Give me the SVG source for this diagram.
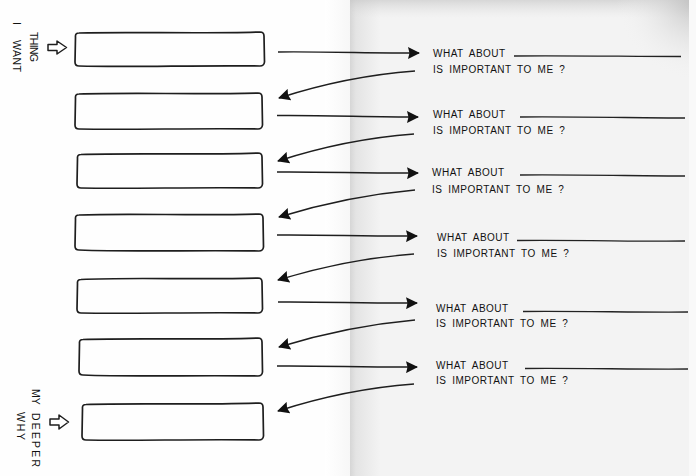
<svg xmlns="http://www.w3.org/2000/svg" width="696" height="476" viewBox="0 0 696 476">
<defs>
<linearGradient id="fold" x1="350" y1="0" x2="380" y2="0" gradientUnits="userSpaceOnUse">
<stop offset="0" stop-color="#d6d6d6"/>
<stop offset="0.2" stop-color="#e4e4e4"/>
<stop offset="1" stop-color="#f3f3f3"/>
</linearGradient>
<linearGradient id="leftfold" x1="325" y1="0" x2="350" y2="0" gradientUnits="userSpaceOnUse">
<stop offset="0" stop-color="#ffffff"/>
<stop offset="1" stop-color="#f7f7f7"/>
</linearGradient>
<radialGradient id="corner" cx="696" cy="0" r="80" gradientUnits="userSpaceOnUse">
<stop offset="0" stop-color="#bcbcbc" stop-opacity="0.9"/>
<stop offset="1" stop-color="#f3f3f3" stop-opacity="0"/>
</radialGradient>
<linearGradient id="topfold" x1="0" y1="0" x2="0" y2="18" gradientUnits="userSpaceOnUse">
<stop offset="0" stop-color="#c4c4c4" stop-opacity="0.6"/>
<stop offset="1" stop-color="#dddddd" stop-opacity="0"/>
</linearGradient>
<marker id="head" viewBox="0 0 12 12" refX="11" refY="6" markerWidth="12" markerHeight="12" markerUnits="userSpaceOnUse" orient="auto">
<path d="M0,0 L12,6 L0,12 L1.5,6 Z" fill="#111"/>
</marker>
<style>
.box{fill:none;stroke:#1e1e1e;stroke-width:1.7;stroke-linejoin:round}
.conn{fill:none;stroke:#1e1e1e;stroke-width:1.4;marker-end:url(#head)}
.rule{fill:none;stroke:#222;stroke-width:1.3}
.hand{font-family:"Liberation Sans",Arial,sans-serif;font-size:10px;letter-spacing:0.5px;word-spacing:2.5px;fill:#111}
.side{font-family:"Liberation Sans",Arial,sans-serif;font-size:10.5px;fill:#111}
.block{fill:#fff;stroke:#1e1e1e;stroke-width:1.5;stroke-linejoin:round}
</style>
</defs>
<!-- pages -->
<rect x="0" y="0" width="696" height="476" fill="#fefefe"/>
<rect x="325" y="0" width="25" height="476" fill="url(#leftfold)"/>
<rect x="350" y="0" width="346" height="476" fill="#f3f3f3"/>
<rect x="350" y="0" width="30" height="476" fill="url(#fold)"/>
<rect x="350" y="0" width="346" height="18" fill="url(#topfold)"/>
<rect x="610" y="0" width="86" height="80" fill="url(#corner)"/>
<rect x="689" y="0" width="7" height="476" fill="#f9f9f9"/>

<!-- side labels -->
<g id="label-top">
<text class="side" transform="translate(30,32) rotate(90)" textLength="30" lengthAdjust="spacing">THING</text>
<text class="side" transform="translate(13,22) rotate(90)">I</text>
<text class="side" transform="translate(13,40) rotate(90)" textLength="32" lengthAdjust="spacing">WANT</text>
<path class="block" d="M48,44.5 L57,44.5 L57,41 L66.5,47.5 L57,54 L57,50.5 L48,50.5 Z"/>
</g>
<g id="label-bottom">
<text class="side" transform="translate(32,389) rotate(90)">MY</text>
<text class="side" transform="translate(32,413) rotate(90)" textLength="54" lengthAdjust="spacing">DEEPER</text>
<text class="side" transform="translate(17,412) rotate(90)" textLength="28" lengthAdjust="spacing">WHY</text>
<path class="block" d="M50,419 L59,419 L59,415 L68.5,422 L59,429 L59,425 L50,425 Z"/>
</g>

<!-- boxes -->
<g id="box1"><path class="box" d="M79,33 C130,31.5 200,34 260,32 Q264,32 264,36 L264.5,62 Q264,66 260,66 C200,65 130,67.5 79,66 Q75,66 75,62 L75.5,37 Q75,33 79,33 Z"/></g>
<g id="box2"><path class="box" d="M79,94 C130,92.5 200,94.5 258,93 Q262,93 262,97 L262.5,125 Q262,129 258,129 C200,128 130,130 79,129 Q75,129 75,125 L75.5,98 Q75,94 79,94 Z"/></g>
<g id="box3"><path class="box" d="M81,154.5 C130,153 200,155 258,153 Q262,153 262,157 L262.5,184 Q262,188 258,188 C200,187 130,189 81,188 Q77,188 77,184 L77.5,158.5 Q77,154.5 81,154.5 Z"/></g>
<g id="box4"><path class="box" d="M79,215 C130,213 200,216 259,214 Q263,214 263,218 L263.5,247 Q263,251 259,251 C200,250 130,252 79,250 Q75,250 75,246 L75.5,219 Q75,215 79,215 Z"/></g>
<g id="box5"><path class="box" d="M81,279.5 C130,277 200,280 258,278 Q262,278 262,282 L262.5,309 Q262,313 258,313 C200,312 130,314 81,313 Q77,313 77,309 L77.5,283.5 Q77,279.5 81,279.5 Z"/></g>
<g id="box6"><path class="box" d="M83,339.5 C130,338 200,340 258,338 Q262,338 262,342 L262.5,372 Q262,376 258,376 C200,375 130,377 83,375 Q79,375 79,371 L79.5,343.5 Q79,339.5 83,339.5 Z"/></g>
<g id="box7"><path class="box" d="M86,404.5 C130,403 200,405 259,403 Q263,403 263,407 L263.5,436 Q263,440 259,440 C200,439 130,441 86,440 Q82,440 82,436 L82.5,408.5 Q82,404.5 86,404.5 Z"/></g>

<!-- prompts -->
<g id="prompt1">
<text class="hand" x="433" y="57">WHAT ABOUT</text>
<path class="rule" d="M514,56 C570,55.5 630,56.5 681,56.5"/>
<text class="hand" x="433" y="73">IS IMPORTANT TO ME ?</text>
</g>
<g id="prompt2">
<text class="hand" x="433" y="118">WHAT ABOUT</text>
<path class="rule" d="M520,117 C580,116.5 640,118 685,118"/>
<text class="hand" x="433" y="134">IS IMPORTANT TO ME ?</text>
</g>
<g id="prompt3">
<text class="hand" x="432" y="176">WHAT ABOUT</text>
<path class="rule" d="M520,175 C580,174.5 640,176 685,176"/>
<text class="hand" x="432" y="193">IS IMPORTANT TO ME ?</text>
</g>
<g id="prompt4">
<text class="hand" x="437" y="241">WHAT ABOUT</text>
<path class="rule" d="M517,240.5 C580,240 640,241.5 685,241"/>
<text class="hand" x="437" y="257">IS IMPORTANT TO ME ?</text>
</g>
<g id="prompt5">
<text class="hand" x="436" y="312">WHAT ABOUT</text>
<path class="rule" d="M523,311.5 C580,311 640,312.5 688,312"/>
<text class="hand" x="436" y="327">IS IMPORTANT TO ME ?</text>
</g>
<g id="prompt6">
<text class="hand" x="436" y="369">WHAT ABOUT</text>
<path class="rule" d="M525,368.5 C580,368 640,369.5 688,369"/>
<text class="hand" x="436" y="384">IS IMPORTANT TO ME ?</text>
</g>

<!-- connectors -->
<g id="connectors">
<path class="conn" d="M278,52 C320,51.5 370,53 419,53"/>
<path class="conn" d="M415,71 Q347,76 279,98"/>
<path class="conn" d="M277,115.5 C320,115 370,117 418,117"/>
<path class="conn" d="M414,134 Q346,139 278,161"/>
<path class="conn" d="M277,172 C320,171.5 370,173.5 418,173"/>
<path class="conn" d="M415,190 Q347,196 279,217"/>
<path class="conn" d="M277,235 C320,234.5 370,236.5 417,236"/>
<path class="conn" d="M414,254 Q346,259 278,280"/>
<path class="conn" d="M278,302 C320,301.5 370,303.5 417,303"/>
<path class="conn" d="M415,320 Q347,326 279,347"/>
<path class="conn" d="M277,366 C320,365.5 370,367.5 417,367"/>
<path class="conn" d="M414,384 Q346,389 278,411"/>
</g>
</svg>
